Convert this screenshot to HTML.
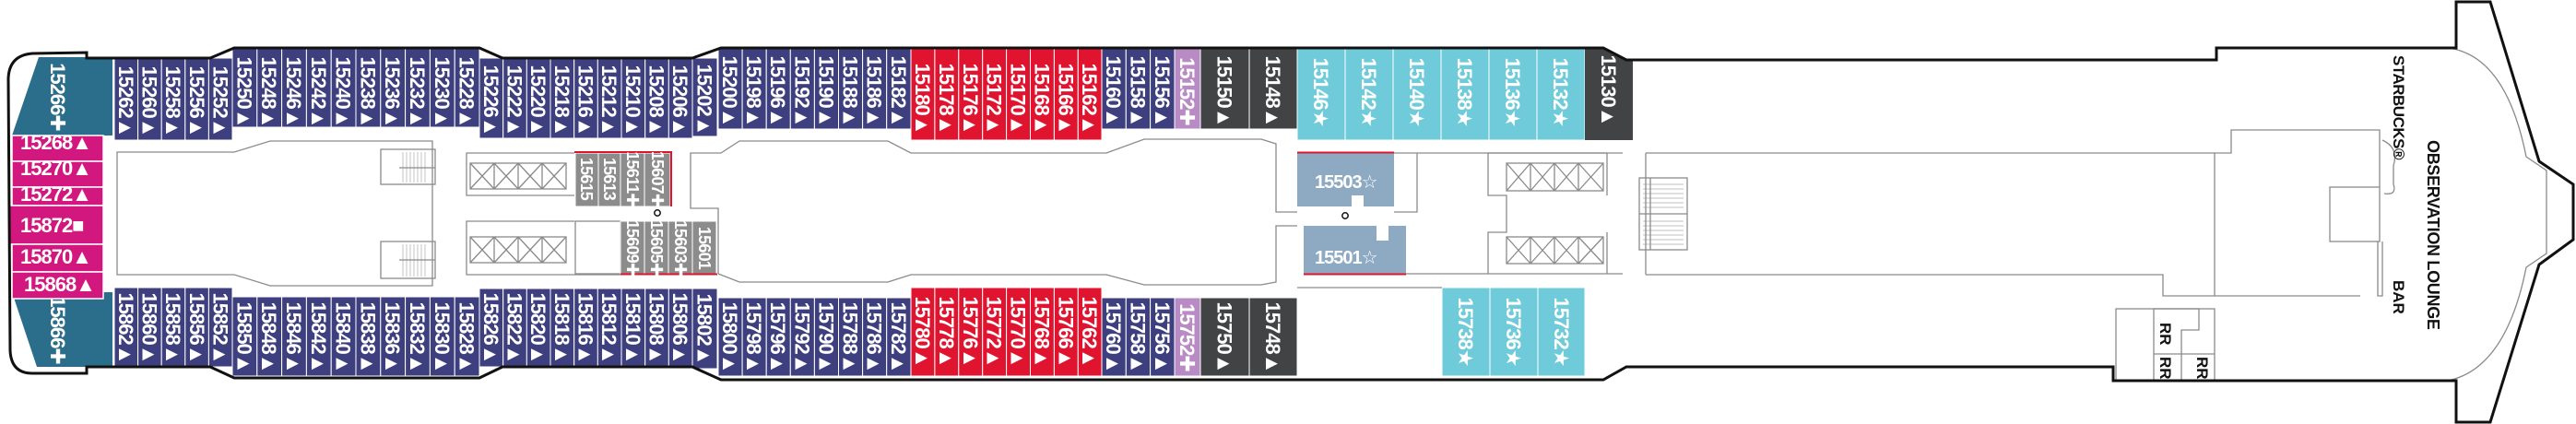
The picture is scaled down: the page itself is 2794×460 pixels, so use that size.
<!DOCTYPE html>
<html><head><meta charset="utf-8"><style>
html,body{margin:0;padding:0;background:#fff;}
svg{display:block;}
.t{font-family:"Liberation Sans","DejaVu Sans",sans-serif;font-weight:bold;font-size:22px;fill:#fff;letter-spacing:-1px;}
.s{font-family:"Liberation Sans","DejaVu Sans",sans-serif;font-weight:bold;font-size:18px;fill:#fff;letter-spacing:-0.8px;}
.n{fill:#3d3f7f;stroke:#fff;stroke-width:1;}
.r{fill:#e0142f;stroke:#fff;stroke-width:1;}
.lt{fill:#6fcbd9;stroke:#fff;stroke-width:1;}
.dk{fill:#424345;stroke:#fff;stroke-width:1;}
.li{fill:#b98bc4;stroke:#fff;stroke-width:1;}
.g{fill:#8b8c8b;stroke:#fff;stroke-width:1;}
.m{fill:#d2177f;stroke:#fff;stroke-width:1.5;}
.ln{fill:none;stroke:#8a8a8a;stroke-width:1.3;}
.lb{font-family:"Liberation Sans",sans-serif;font-weight:bold;font-size:17px;fill:#111;}
</style></head><body>
<svg width="2794" height="460" viewBox="0 0 2794 460" xmlns="http://www.w3.org/2000/svg">

<polygon points="42,62 122,62 122,147 13,147" fill="#2b6e8b"/>
<polygon points="13,317 122,317 122,398 40,398" fill="#2b6e8b"/>
<text class="t" transform="translate(55,105) rotate(90)" text-anchor="middle">15266✚</text>
<text class="t" transform="translate(55,358) rotate(90)" text-anchor="middle">15866✚</text>
<rect class="m" x="13" y="147" width="99" height="28"/>
<rect class="m" x="13" y="175" width="99" height="28"/>
<rect class="m" x="13" y="203" width="99" height="20"/>
<rect class="m" x="9" y="223" width="103" height="42"/>
<rect class="m" x="13" y="265" width="99" height="30"/>
<rect class="m" x="13" y="295" width="99" height="29"/>
<text class="t" x="22" y="162">15268▲</text>
<text class="t" x="22" y="190">15270▲</text>
<text class="t" x="22" y="218">15272▲</text>
<text class="t" x="22" y="252">15872■</text>
<text class="t" x="22" y="286">15870▲</text>
<text class="t" x="26" y="316">15868▲</text>

<g>
<rect class="n" x="124" y="63" width="25.6" height="89"/><rect class="n" x="149.6" y="63" width="25.6" height="89"/><rect class="n" x="175.2" y="63" width="25.6" height="89"/><rect class="n" x="200.8" y="63" width="25.6" height="89"/><rect class="n" x="226.4" y="63" width="25.6" height="89"/>
<text class="t" transform="translate(129,110) rotate(90)" text-anchor="middle">15262▲</text>
<text class="t" transform="translate(154.6,110) rotate(90)" text-anchor="middle">15260▲</text>
<text class="t" transform="translate(180.2,110) rotate(90)" text-anchor="middle">15258▲</text>
<text class="t" transform="translate(205.8,110) rotate(90)" text-anchor="middle">15256▲</text>
<text class="t" transform="translate(231.4,110) rotate(90)" text-anchor="middle">15252▲</text>

<rect class="n" x="252" y="53" width="26.8" height="85"/><rect class="n" x="278.8" y="53" width="26.8" height="85"/><rect class="n" x="305.6" y="53" width="26.8" height="85"/><rect class="n" x="332.4" y="53" width="26.8" height="85"/><rect class="n" x="359.2" y="53" width="26.8" height="85"/><rect class="n" x="386" y="53" width="26.8" height="85"/><rect class="n" x="412.8" y="53" width="26.8" height="85"/><rect class="n" x="439.6" y="53" width="26.8" height="85"/><rect class="n" x="466.4" y="53" width="26.8" height="85"/><rect class="n" x="493.2" y="53" width="26.8" height="85"/>
<text class="t" transform="translate(257.4,100) rotate(90)" text-anchor="middle">15250▲</text>
<text class="t" transform="translate(284.2,100) rotate(90)" text-anchor="middle">15248▲</text>
<text class="t" transform="translate(311,100) rotate(90)" text-anchor="middle">15246▲</text>
<text class="t" transform="translate(337.8,100) rotate(90)" text-anchor="middle">15242▲</text>
<text class="t" transform="translate(364.6,100) rotate(90)" text-anchor="middle">15240▲</text>
<text class="t" transform="translate(391.4,100) rotate(90)" text-anchor="middle">15238▲</text>
<text class="t" transform="translate(418.2,100) rotate(90)" text-anchor="middle">15236▲</text>
<text class="t" transform="translate(445,100) rotate(90)" text-anchor="middle">15232▲</text>
<text class="t" transform="translate(471.8,100) rotate(90)" text-anchor="middle">15230▲</text>
<text class="t" transform="translate(498.6,100) rotate(90)" text-anchor="middle">15228▲</text>

<rect class="n" x="520" y="63" width="25.7" height="87"/><rect class="n" x="545.7" y="63" width="25.7" height="87"/><rect class="n" x="571.3" y="63" width="25.7" height="87"/><rect class="n" x="597" y="63" width="25.7" height="87"/><rect class="n" x="622.7" y="63" width="25.7" height="87"/><rect class="n" x="648.3" y="63" width="25.7" height="87"/><rect class="n" x="674" y="63" width="25.7" height="87"/><rect class="n" x="699.7" y="63" width="25.7" height="87"/><rect class="n" x="725.3" y="63" width="25.7" height="87"/><rect class="n" x="751" y="63" width="27" height="85"/>
<text class="t" transform="translate(524.8,109) rotate(90)" text-anchor="middle">15226▲</text>
<text class="t" transform="translate(550.5,109) rotate(90)" text-anchor="middle">15222▲</text>
<text class="t" transform="translate(576.1,109) rotate(90)" text-anchor="middle">15220▲</text>
<text class="t" transform="translate(601.8,109) rotate(90)" text-anchor="middle">15218▲</text>
<text class="t" transform="translate(627.5,109) rotate(90)" text-anchor="middle">15216▲</text>
<text class="t" transform="translate(653.1,109) rotate(90)" text-anchor="middle">15212▲</text>
<text class="t" transform="translate(678.8,109) rotate(90)" text-anchor="middle">15210▲</text>
<text class="t" transform="translate(704.5,109) rotate(90)" text-anchor="middle">15208▲</text>
<text class="t" transform="translate(730.1,109) rotate(90)" text-anchor="middle">15206▲</text>
<text class="t" transform="translate(756.5,108) rotate(90)" text-anchor="middle">15202▲</text>

<rect class="n" x="779" y="53" width="26.1" height="87"/><rect class="n" x="805.1" y="53" width="26.1" height="87"/><rect class="n" x="831.2" y="53" width="26.1" height="87"/><rect class="n" x="857.3" y="53" width="26.1" height="87"/><rect class="n" x="883.4" y="53" width="26.1" height="87"/><rect class="n" x="909.5" y="53" width="26.1" height="87"/><rect class="n" x="935.6" y="53" width="26.1" height="87"/><rect class="n" x="961.7" y="53" width="26.3" height="87"/>
<text class="t" transform="translate(784,99) rotate(90)" text-anchor="middle">15200▲</text>
<text class="t" transform="translate(810.1,99) rotate(90)" text-anchor="middle">15198▲</text>
<text class="t" transform="translate(836.2,99) rotate(90)" text-anchor="middle">15196▲</text>
<text class="t" transform="translate(862.3,99) rotate(90)" text-anchor="middle">15192▲</text>
<text class="t" transform="translate(888.4,99) rotate(90)" text-anchor="middle">15190▲</text>
<text class="t" transform="translate(914.5,99) rotate(90)" text-anchor="middle">15188▲</text>
<text class="t" transform="translate(940.6,99) rotate(90)" text-anchor="middle">15186▲</text>
<text class="t" transform="translate(966.8,99) rotate(90)" text-anchor="middle">15182▲</text>

<rect class="r" x="988" y="53" width="25.9" height="99"/><rect class="r" x="1013.9" y="53" width="25.9" height="99"/><rect class="r" x="1039.8" y="53" width="25.9" height="99"/><rect class="r" x="1065.7" y="53" width="25.9" height="99"/><rect class="r" x="1091.6" y="53" width="25.9" height="99"/><rect class="r" x="1117.5" y="53" width="25.9" height="99"/><rect class="r" x="1143.4" y="53" width="25.9" height="99"/><rect class="r" x="1169.3" y="53" width="25.7" height="99"/>
<text class="t" transform="translate(993,107) rotate(90)" text-anchor="middle">15180▲</text>
<text class="t" transform="translate(1018.9,107) rotate(90)" text-anchor="middle">15178▲</text>
<text class="t" transform="translate(1044.8,107) rotate(90)" text-anchor="middle">15176▲</text>
<text class="t" transform="translate(1070.7,107) rotate(90)" text-anchor="middle">15172▲</text>
<text class="t" transform="translate(1096.6,107) rotate(90)" text-anchor="middle">15170▲</text>
<text class="t" transform="translate(1122.5,107) rotate(90)" text-anchor="middle">15168▲</text>
<text class="t" transform="translate(1148.4,107) rotate(90)" text-anchor="middle">15166▲</text>
<text class="t" transform="translate(1174.2,107) rotate(90)" text-anchor="middle">15162▲</text>

<rect class="n" x="1195" y="53" width="26.3" height="87"/><rect class="n" x="1221.3" y="53" width="26.3" height="87"/><rect class="n" x="1247.6" y="53" width="26.4" height="87"/>
<rect class="li" x="1274" y="53" width="28" height="87"/>
<rect class="dk" x="1302" y="53" width="53" height="87"/><rect class="dk" x="1355" y="53" width="52" height="87"/>
<text class="t" transform="translate(1200.2,99) rotate(90)" text-anchor="middle">15160▲</text>
<text class="t" transform="translate(1226.5,99) rotate(90)" text-anchor="middle">15158▲</text>
<text class="t" transform="translate(1252.8,99) rotate(90)" text-anchor="middle">15156▲</text>
<text class="t" transform="translate(1280,99) rotate(90)" text-anchor="middle">15152✚</text>
<text class="t" transform="translate(1320.5,99) rotate(90)" text-anchor="middle">15150▲</text>
<text class="t" transform="translate(1373,99) rotate(90)" text-anchor="middle">15148▲</text>

<rect class="lt" x="1407" y="53" width="52" height="99"/><rect class="lt" x="1459" y="53" width="52" height="99"/><rect class="lt" x="1511" y="53" width="52" height="99"/><rect class="lt" x="1563" y="53" width="52" height="99"/><rect class="lt" x="1615" y="53" width="52" height="99"/><rect class="lt" x="1667" y="53" width="52" height="99"/>
<polygon points="1719,53 1739,53 1764,65 1771,65 1771,152 1719,152" fill="#424345"/>
<text class="t" transform="translate(1425,100) rotate(90)" text-anchor="middle">15146★</text>
<text class="t" transform="translate(1477,100) rotate(90)" text-anchor="middle">15142★</text>
<text class="t" transform="translate(1529,100) rotate(90)" text-anchor="middle">15140★</text>
<text class="t" transform="translate(1581,100) rotate(90)" text-anchor="middle">15138★</text>
<text class="t" transform="translate(1633,100) rotate(90)" text-anchor="middle">15136★</text>
<text class="t" transform="translate(1685,100) rotate(90)" text-anchor="middle">15132★</text>
<text class="t" transform="translate(1737,98) rotate(90)" text-anchor="middle">15130▲</text>
</g>

<g>
<rect class="n" x="124" y="312" width="25.6" height="86"/><rect class="n" x="149.6" y="312" width="25.6" height="86"/><rect class="n" x="175.2" y="312" width="25.6" height="86"/><rect class="n" x="200.8" y="312" width="25.6" height="86"/><rect class="n" x="226.4" y="312" width="25.6" height="86"/>
<text class="t" transform="translate(129,356) rotate(90)" text-anchor="middle">15862▲</text>
<text class="t" transform="translate(154.6,356) rotate(90)" text-anchor="middle">15860▲</text>
<text class="t" transform="translate(180.2,356) rotate(90)" text-anchor="middle">15858▲</text>
<text class="t" transform="translate(205.8,356) rotate(90)" text-anchor="middle">15856▲</text>
<text class="t" transform="translate(231.4,356) rotate(90)" text-anchor="middle">15852▲</text>

<rect class="n" x="252" y="322" width="26.8" height="86"/><rect class="n" x="278.8" y="322" width="26.8" height="86"/><rect class="n" x="305.6" y="322" width="26.8" height="86"/><rect class="n" x="332.4" y="322" width="26.8" height="86"/><rect class="n" x="359.2" y="322" width="26.8" height="86"/><rect class="n" x="386" y="322" width="26.8" height="86"/><rect class="n" x="412.8" y="322" width="26.8" height="86"/><rect class="n" x="439.6" y="322" width="26.8" height="86"/><rect class="n" x="466.4" y="322" width="26.8" height="86"/><rect class="n" x="493.2" y="322" width="26.8" height="86"/>
<text class="t" transform="translate(257.4,366) rotate(90)" text-anchor="middle">15850▲</text>
<text class="t" transform="translate(284.2,366) rotate(90)" text-anchor="middle">15848▲</text>
<text class="t" transform="translate(311,366) rotate(90)" text-anchor="middle">15846▲</text>
<text class="t" transform="translate(337.8,366) rotate(90)" text-anchor="middle">15842▲</text>
<text class="t" transform="translate(364.6,366) rotate(90)" text-anchor="middle">15840▲</text>
<text class="t" transform="translate(391.4,366) rotate(90)" text-anchor="middle">15838▲</text>
<text class="t" transform="translate(418.2,366) rotate(90)" text-anchor="middle">15836▲</text>
<text class="t" transform="translate(445,366) rotate(90)" text-anchor="middle">15832▲</text>
<text class="t" transform="translate(471.8,366) rotate(90)" text-anchor="middle">15830▲</text>
<text class="t" transform="translate(498.6,366) rotate(90)" text-anchor="middle">15828▲</text>

<rect class="n" x="520" y="313" width="25.7" height="85"/><rect class="n" x="545.7" y="313" width="25.7" height="85"/><rect class="n" x="571.3" y="313" width="25.7" height="85"/><rect class="n" x="597" y="313" width="25.7" height="85"/><rect class="n" x="622.7" y="313" width="25.7" height="85"/><rect class="n" x="648.3" y="313" width="25.7" height="85"/><rect class="n" x="674" y="313" width="25.7" height="85"/><rect class="n" x="699.7" y="313" width="25.7" height="85"/><rect class="n" x="725.3" y="313" width="25.7" height="85"/><rect class="n" x="751" y="313" width="27" height="87"/>
<text class="t" transform="translate(524.8,356) rotate(90)" text-anchor="middle">15826▲</text>
<text class="t" transform="translate(550.5,356) rotate(90)" text-anchor="middle">15822▲</text>
<text class="t" transform="translate(576.1,356) rotate(90)" text-anchor="middle">15820▲</text>
<text class="t" transform="translate(601.8,356) rotate(90)" text-anchor="middle">15818▲</text>
<text class="t" transform="translate(627.5,356) rotate(90)" text-anchor="middle">15816▲</text>
<text class="t" transform="translate(653.1,356) rotate(90)" text-anchor="middle">15812▲</text>
<text class="t" transform="translate(678.8,356) rotate(90)" text-anchor="middle">15810▲</text>
<text class="t" transform="translate(704.5,356) rotate(90)" text-anchor="middle">15808▲</text>
<text class="t" transform="translate(730.1,356) rotate(90)" text-anchor="middle">15806▲</text>
<text class="t" transform="translate(756.5,357) rotate(90)" text-anchor="middle">15802▲</text>

<rect class="n" x="779" y="323" width="26.1" height="85"/><rect class="n" x="805.1" y="323" width="26.1" height="85"/><rect class="n" x="831.2" y="323" width="26.1" height="85"/><rect class="n" x="857.3" y="323" width="26.1" height="85"/><rect class="n" x="883.4" y="323" width="26.1" height="85"/><rect class="n" x="909.5" y="323" width="26.1" height="85"/><rect class="n" x="935.6" y="323" width="26.1" height="85"/><rect class="n" x="961.7" y="323" width="26.3" height="85"/>
<text class="t" transform="translate(784,366) rotate(90)" text-anchor="middle">15800▲</text>
<text class="t" transform="translate(810.1,366) rotate(90)" text-anchor="middle">15798▲</text>
<text class="t" transform="translate(836.2,366) rotate(90)" text-anchor="middle">15796▲</text>
<text class="t" transform="translate(862.3,366) rotate(90)" text-anchor="middle">15792▲</text>
<text class="t" transform="translate(888.4,366) rotate(90)" text-anchor="middle">15790▲</text>
<text class="t" transform="translate(914.5,366) rotate(90)" text-anchor="middle">15788▲</text>
<text class="t" transform="translate(940.6,366) rotate(90)" text-anchor="middle">15786▲</text>
<text class="t" transform="translate(966.8,366) rotate(90)" text-anchor="middle">15782▲</text>

<rect class="r" x="988" y="312" width="25.9" height="96"/><rect class="r" x="1013.9" y="312" width="25.9" height="96"/><rect class="r" x="1039.8" y="312" width="25.9" height="96"/><rect class="r" x="1065.7" y="312" width="25.9" height="96"/><rect class="r" x="1091.6" y="312" width="25.9" height="96"/><rect class="r" x="1117.5" y="312" width="25.9" height="96"/><rect class="r" x="1143.4" y="312" width="25.9" height="96"/><rect class="r" x="1169.3" y="312" width="25.7" height="96"/>
<text class="t" transform="translate(993,360) rotate(90)" text-anchor="middle">15780▲</text>
<text class="t" transform="translate(1018.9,360) rotate(90)" text-anchor="middle">15778▲</text>
<text class="t" transform="translate(1044.8,360) rotate(90)" text-anchor="middle">15776▲</text>
<text class="t" transform="translate(1070.7,360) rotate(90)" text-anchor="middle">15772▲</text>
<text class="t" transform="translate(1096.6,360) rotate(90)" text-anchor="middle">15770▲</text>
<text class="t" transform="translate(1122.5,360) rotate(90)" text-anchor="middle">15768▲</text>
<text class="t" transform="translate(1148.4,360) rotate(90)" text-anchor="middle">15766▲</text>
<text class="t" transform="translate(1174.2,360) rotate(90)" text-anchor="middle">15762▲</text>

<rect class="n" x="1195" y="323" width="26.3" height="85"/><rect class="n" x="1221.3" y="323" width="26.3" height="85"/><rect class="n" x="1247.6" y="323" width="26.4" height="85"/>
<rect class="li" x="1274" y="323" width="28" height="85"/>
<rect class="dk" x="1302" y="323" width="53" height="85"/><rect class="dk" x="1355" y="323" width="52" height="85"/>
<text class="t" transform="translate(1200.2,366) rotate(90)" text-anchor="middle">15760▲</text>
<text class="t" transform="translate(1226.5,366) rotate(90)" text-anchor="middle">15758▲</text>
<text class="t" transform="translate(1252.8,366) rotate(90)" text-anchor="middle">15756▲</text>
<text class="t" transform="translate(1280,366) rotate(90)" text-anchor="middle">15752✚</text>
<text class="t" transform="translate(1320.5,366) rotate(90)" text-anchor="middle">15750▲</text>
<text class="t" transform="translate(1373,366) rotate(90)" text-anchor="middle">15748▲</text>

<rect class="lt" x="1564" y="312" width="52" height="96"/><rect class="lt" x="1616" y="312" width="52" height="96"/><rect class="lt" x="1668" y="312" width="51" height="96"/>
<text class="t" transform="translate(1582,360) rotate(90)" text-anchor="middle">15738★</text>
<text class="t" transform="translate(1634,360) rotate(90)" text-anchor="middle">15736★</text>
<text class="t" transform="translate(1686,360) rotate(90)" text-anchor="middle">15732★</text>
<line class="ln" x1="1407" y1="312" x2="1564" y2="312"/>
</g>

<polygon class="ln" points="127,165 254,165 293,153 469,153 469,310 293,310 254,298 127,298"/>
<rect class="ln" x="413" y="162" width="59" height="38" fill="#fff"/>
<rect class="ln" x="413" y="262" width="59" height="40" fill="#fff"/>
<g stroke="#aaa" stroke-width="0.7">
<line x1="437" y1="165" x2="437" y2="198"/><line x1="441" y1="165" x2="441" y2="198"/><line x1="445" y1="165" x2="445" y2="198"/><line x1="449" y1="165" x2="449" y2="198"/><line x1="453" y1="165" x2="453" y2="198"/><line x1="457" y1="165" x2="457" y2="198"/><line x1="461" y1="165" x2="461" y2="198"/>
<line x1="437" y1="265" x2="437" y2="300"/><line x1="441" y1="265" x2="441" y2="300"/><line x1="445" y1="265" x2="445" y2="300"/><line x1="449" y1="265" x2="449" y2="300"/><line x1="453" y1="265" x2="453" y2="300"/><line x1="457" y1="265" x2="457" y2="300"/><line x1="461" y1="265" x2="461" y2="300"/>
</g>
<line class="ln" x1="433" y1="182" x2="472" y2="182"/><line class="ln" x1="433" y1="282" x2="472" y2="282"/>

<polyline class="ln" points="623,166 506,166 506,212 623,212"/>
<rect class="ln" x="510" y="177" width="104" height="28"/>
<path class="ln" d="M510,177 L536,205 M536,177 L510,205 M536,177 L562,205 M562,177 L536,205 M562,177 L588,205 M588,177 L562,205 M588,177 L614,205 M614,177 L588,205 M536,177V205 M562,177V205 M588,177V205"/>
<polyline class="ln" points="623,240 506,240 506,298 673,298"/>
<rect class="ln" x="510" y="257" width="104" height="28"/>
<path class="ln" d="M510,257 L536,285 M536,257 L510,285 M536,257 L562,285 M562,257 L536,285 M562,257 L588,285 M588,257 L562,285 M588,257 L614,285 M614,257 L588,285 M536,257V285 M562,257V285 M588,257V285"/>
<rect class="ln" x="624" y="240" width="49" height="57"/>

<rect class="g" x="624" y="166" width="25" height="58"/><rect class="g" x="649" y="166" width="24" height="58"/><rect class="g" x="673" y="166" width="26" height="58"/><rect class="g" x="699" y="166" width="28" height="58"/>
<rect class="g" x="673" y="240" width="26" height="57"/><rect class="g" x="699" y="240" width="26" height="57"/><rect class="g" x="725" y="240" width="26" height="57"/><rect class="g" x="751" y="240" width="26" height="57"/>
<polyline points="623,165 728,165 728,224" fill="none" stroke="#e0142f" stroke-width="2"/>
<line x1="673" y1="297.5" x2="778" y2="297.5" stroke="#e0142f" stroke-width="2"/>
<text class="s" transform="translate(630,194) rotate(90)" text-anchor="middle">15615</text>
<text class="s" transform="translate(655,194) rotate(90)" text-anchor="middle">15613</text>
<text class="s" transform="translate(680,194) rotate(90)" text-anchor="middle">15611✚</text>
<text class="s" transform="translate(707,194) rotate(90)" text-anchor="middle">15607✚</text>
<text class="s" transform="translate(680,269) rotate(90)" text-anchor="middle">15609✚</text>
<text class="s" transform="translate(706,269) rotate(90)" text-anchor="middle">15605✚</text>
<text class="s" transform="translate(732,269) rotate(90)" text-anchor="middle">15603✚</text>
<text class="s" transform="translate(758,269) rotate(90)" text-anchor="middle">15601</text>
<circle cx="713" cy="231" r="3.2" fill="none" stroke="#111" stroke-width="1.5"/>

<polyline class="ln" points="779,297 779,226 749,226 749,166 782,166 802,153 963,153 988,166 1200,166 1241,151 1368,151 1384,156 1384,230 1407,230"/>
<polyline class="ln" points="779,297 802,306 963,306 988,298 1200,298 1241,309 1368,309 1384,306 1384,245 1407,245"/>

<path d="M1407,166 H1512 V224 H1479 V212 H1466 V224 H1407 Z" fill="#8daac2"/>
<path d="M1414,245 H1525 V297 H1414 Z M1493,245 H1506 V261 H1493 Z" fill="#8daac2" fill-rule="evenodd"/>
<line x1="1407" y1="165.5" x2="1512" y2="165.5" stroke="#e0142f" stroke-width="2"/>
<line x1="1414" y1="297.5" x2="1525" y2="297.5" stroke="#e0142f" stroke-width="2"/>
<text class="t" x="1426" y="204" style="font-size:20px">15503☆</text>
<text class="t" x="1426" y="286" style="font-size:20px">15501☆</text>
<circle cx="1459" cy="234" r="3.2" fill="none" stroke="#111" stroke-width="1.5"/>

<polyline class="ln" points="1512,166 1760,166"/>
<polyline class="ln" points="1525,297 1760,297"/>
<polyline class="ln" points="1537,166 1537,230 1512,230"/>
<polyline class="ln" points="1743,166 1614,166 1614,212 1634,212 1634,252 1614,252 1614,297"/>
<rect class="ln" x="1634" y="177" width="105" height="30"/>
<path class="ln" d="M1634,177 L1660,207 M1660,177 L1634,207 M1660,177 L1686,207 M1686,177 L1660,207 M1686,177 L1712,207 M1712,177 L1686,207 M1712,177 L1739,207 M1739,177 L1712,207 M1660,177V207 M1686,177V207 M1712,177V207"/>
<rect class="ln" x="1634" y="257" width="105" height="29"/>
<path class="ln" d="M1634,257 L1660,286 M1660,257 L1634,286 M1660,257 L1686,286 M1686,257 L1660,286 M1686,257 L1712,286 M1712,257 L1686,286 M1712,257 L1739,286 M1739,257 L1712,286 M1660,257V286 M1686,257V286 M1712,257V286"/>
<line class="ln" x1="1743" y1="166" x2="1743" y2="212"/><line class="ln" x1="1743" y1="252" x2="1743" y2="297"/>
<rect class="ln" x="1778" y="193" width="52" height="78"/>
<g stroke="#aaa" stroke-width="0.7">
<line x1="1782" y1="200" x2="1826" y2="200"/><line x1="1782" y1="205" x2="1826" y2="205"/><line x1="1782" y1="210" x2="1826" y2="210"/><line x1="1782" y1="215" x2="1826" y2="215"/><line x1="1782" y1="220" x2="1826" y2="220"/><line x1="1782" y1="225" x2="1826" y2="225"/><line x1="1782" y1="240" x2="1826" y2="240"/><line x1="1782" y1="245" x2="1826" y2="245"/><line x1="1782" y1="250" x2="1826" y2="250"/><line x1="1782" y1="255" x2="1826" y2="255"/><line x1="1782" y1="260" x2="1826" y2="260"/><line x1="1782" y1="265" x2="1826" y2="265"/>
</g>
<line class="ln" x1="1778" y1="232" x2="1830" y2="232"/><line class="ln" x1="1790" y1="193" x2="1790" y2="271"/>

<polyline class="ln" points="1785,166 2420,166 2420,141 2581,141 2581,203"/>
<polyline class="ln" points="1785,298 2346,298 2346,321 2560,321"/>
<line class="ln" x1="1785" y1="166" x2="1785" y2="298"/>
<line class="ln" x1="2402" y1="166" x2="2402" y2="321"/>
<rect class="ln" x="2527" y="203" width="54" height="59"/>
<polyline class="ln" points="2579,262 2579,321 2584,321 2584,262"/>
<path class="ln" d="M2584,152 Q2602,160 2596,180 L2596,200 Q2600,212 2586,210"/>
<path class="ln" d="M2655,52 Q2718,60 2740,170 L2762,185 L2762,275 L2740,290 Q2718,400 2655,413"/>
<rect class="ln" x="2295" y="335" width="107" height="78"/>
<polyline class="ln" points="2336,335 2336,413"/>
<polyline class="ln" points="2336,335 2385,335 2385,358 2366,358 2366,413"/>
<line class="ln" x1="2336" y1="384" x2="2402" y2="384"/>
<text class="lb" transform="translate(2343,350) rotate(90)">RR</text>
<text class="lb" transform="translate(2343,387) rotate(90)">RR</text>
<text class="lb" transform="translate(2383,387) rotate(90)">RR</text>
<text class="lb" transform="translate(2596,60) rotate(90)" style="font-size:17px;letter-spacing:-0.5px">STARBUCKS®</text>
<text class="lb" transform="translate(2633,152) rotate(90)" style="font-size:18px;letter-spacing:-0.3px">OBSERVATION LOUNGE</text>
<text class="lb" transform="translate(2596,304) rotate(90)">BAR</text>

<path d="M94,57 L94,63 L228,63 L254,52 L520,52 L545,63 L751,63 L782,52 L1739,52 L1764,65 L2404,65 L2404,52 L2664,52 L2664,2 L2701,2 L2754,175 L2791,200 L2791,260 L2754,287 L2701,458 L2664,458 L2664,413 L2292,413 L2292,398 L1764,398 L1739,412 L782,412 L751,398 L545,398 L520,410 L254,410 L228,398 L94,398 L94,405 L35,405 Q12,405 11,380 L9,85 Q10,60 35,58 Z" fill="none" stroke="#111" stroke-width="3" stroke-linejoin="miter"/>
</svg>
</body></html>
